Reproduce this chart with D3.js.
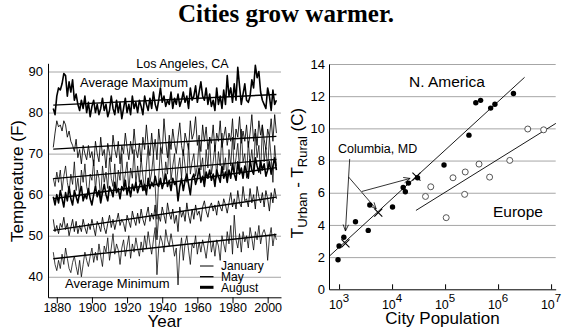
<html>
<head>
<script src="https://d3js.org/d3.v7.min.js"></script>
<style>
  body { margin: 0; background: #fff; }
  text { font-family: "Liberation Sans", Arial, Helvetica, sans-serif; fill: #000; }
  .title { font-family: "Liberation Serif", "Times New Roman", serif; font-weight: bold; font-size: 25px; }
  .grid line { stroke: #a6a6a6; stroke-width: 1; }
  .grid .domain { stroke: none; }
  .axis .domain, .axis line { stroke: #000; stroke-width: 1; }
  .ticklab text { font-size: 13px; }
  .axis-title { font-size: 17px; }
  .note { font-size: 12.5px; }
  .region { font-size: 15.5px; }
</style>
</head>
<body>
<svg id="chart" width="576" height="332"></svg>
<script>
// ---- Los Angeles monthly averages, one value per year from 1878 ----
const firstYear = 1878;

const augMax = [
  81, 79.5, 84, 86, 85.5, 87, 89.5, 89, 84, 87.5,
  85, 88, 83, 84.5, 82, 80.5, 83, 81, 84, 80,
  82.5, 79, 81.5, 83, 80, 82, 79.5, 81, 83.5, 80.5,
  82, 79, 80.5, 84, 81, 79.5, 83, 80, 82.5, 78.5,
  81, 83.5, 80, 82, 79.5, 84, 81, 82.5, 80, 83,
  81.5, 79.5, 84, 82, 80.5, 83.5, 81, 85, 82, 80.5,
  83, 86, 82.5, 84, 81.5, 83, 82, 85, 81, 83.5,
  82, 84.5, 81.5, 83, 85, 82.5, 84, 81, 86, 83,
  84, 86.5, 82.5, 85, 87.5, 84, 83, 86, 82, 84.5,
  81.5, 83, 80.5, 86, 82, 84, 81, 85.5, 82, 89,
  84, 86, 82.5, 87, 83, 91, 86.5, 82, 84.5, 87,
  83, 82.5, 84, 88, 86, 91.5, 88.5, 90, 85, 83,
  82, 81, 86, 84, 80.5, 85.5, 82, 83
];
const mayMax = [
  71.5, 75, 78, 76.5, 77, 75.5, 78, 77, 74, 75.5,
  73, 72, 70.5, 73.5, 69, 71, 67.5, 72, 70, 68.5,
  72, 69, 70.5, 67, 73, 70, 68, 74, 69.5, 71,
  66.5, 72.5, 70, 68, 74.5, 71, 69, 73, 67.5, 72,
  70, 75, 71.5, 68.5, 73, 70, 76, 71, 69, 72.5,
  68, 74, 71, 77, 72, 69.5, 75, 70, 73.5, 68.5,
  76, 72, 70, 78.5, 73, 69, 74.5, 71, 76, 72.5,
  70, 74, 77.5, 72, 69.5, 75, 73, 71, 78, 73.5,
  75, 79, 72, 74.5, 70.5, 77, 73, 76.5, 71, 74,
  72.5, 77, 70.5, 75, 73, 78, 71.5, 74, 76.5, 72,
  75, 73, 78.5, 71, 76, 74, 79, 72.5, 75.5, 73,
  77, 71.5, 75, 79.5, 73, 76, 72, 78, 74.5, 77,
  73.5, 71, 76, 74, 78.5, 73, 79.5, 75
];
const janMax = [
  64, 62, 65.5, 63, 66, 61, 64.5, 67, 63, 60.5,
  65, 62.5, 68, 61, 64, 59.5, 66, 63, 67.5, 62,
  60, 65, 63.5, 68.5, 61, 66, 64, 59, 67, 63,
  65.5, 61.5, 69, 64, 62, 67.5, 60.5, 66, 63.5, 70,
  62, 65, 68, 61, 66.5, 64, 71, 62.5, 67, 63,
  69, 64.5, 61, 67, 72, 63, 65.5, 70, 62, 54,
  64, 71.5, 66, 62.5, 68, 65, 73, 63.5, 67, 70,
  62, 66.5, 69, 64, 71, 67, 63, 72.5, 65, 68,
  70, 64.5, 67, 73, 66, 69, 63, 71, 66.5, 74,
  65, 68, 72, 64, 70.5, 67, 75, 66, 69, 63.5,
  71, 67, 74, 65.5, 69, 72.5, 66, 76, 68, 70,
  64, 73, 67.5, 71, 66, 75, 69, 72, 65, 77,
  68, 71.5, 66, 74, 69, 63, 72, 67
];
const augMin = [
  59.5, 57.5, 60, 58, 61, 59, 57, 60.5, 58.5, 62,
  59, 57.5, 61, 59.5, 58, 60.5, 62, 58.5, 60, 59,
  61.5, 59, 57.5, 60, 62, 59.5, 61, 58, 60.5, 62.5,
  60, 58.5, 62, 61, 59.5, 63, 60.5, 61.5, 59, 62,
  61, 63.5, 60, 62, 59.5, 62.5, 61, 63, 60.5, 62,
  63.5, 61, 62.5, 60, 64, 61.5, 63, 62, 64.5, 62.5,
  62, 64, 61.5, 63, 65, 62, 63.5, 61, 64, 62.5,
  63, 58.5, 62, 64, 61, 63.5, 65, 62.5, 60, 64,
  65, 62.5, 64, 66.5, 63, 64.5, 62, 65.5, 64, 66,
  63.5, 65, 62, 66, 64.5, 63, 67, 64, 65.5, 63,
  66, 64, 67.5, 65, 63.5, 68, 65, 66.5, 64, 67,
  65.5, 64, 68.5, 66, 65, 69, 67, 65.5, 68, 66,
  67.5, 64.5, 66, 68, 65, 67, 69, 66
];
const mayMin = [
  54, 51, 52.5, 50.5, 53, 52, 54.5, 51.5, 53, 50,
  52, 54, 51, 53.5, 50.5, 52.5, 51, 54, 52, 50.5,
  53, 51.5, 54, 52, 50, 53.5, 52.5, 51, 54.5, 52,
  50.5, 53, 55, 52, 54, 51.5, 53.5, 55.5, 52.5, 54,
  53, 51, 55, 53.5, 52, 56, 54, 52.5, 55.5, 53,
  56.5, 54, 52.5, 55, 57, 53.5, 55.5, 54, 57.5, 49,
  55, 53.5, 57, 55, 53, 58, 55.5, 54, 56.5, 53,
  55, 51, 57, 54.5, 56, 53.5, 58, 55, 53, 56.5,
  54, 57.5, 55, 56, 53.5, 57, 58.5, 56, 54.5, 57,
  58, 56, 57.5, 55, 58.5, 57, 56, 59, 57.5, 55.5,
  58, 60.5, 57, 59, 56.5, 61, 58, 57, 62, 58.5,
  59, 57, 61.5, 58, 60, 56.5, 62, 59.5, 58, 60.5,
  57, 61, 59, 56, 60.5, 58, 61.5, 59
];
const janMin = [
  46, 43, 41.5, 44, 42, 45.5, 43, 47, 44.5, 42,
  41, 43.5, 45, 42.5, 40.5, 44, 40, 43, 46, 44,
  42.5, 45, 47, 43.5, 46, 44, 48, 45, 42.5, 47.5,
  46, 49.5, 44, 47, 50.5, 45.5, 48, 46.5, 43, 47,
  49, 45, 47.5, 50, 44.5, 48, 46, 49.5, 47, 45,
  48.5, 46, 50, 47, 51, 48, 45.5, 49, 52, 40.5,
  47, 50, 48.5, 46, 51.5, 49, 47.5, 50.5, 48, 45,
  47, 38, 46, 49.5, 44, 48, 50, 46.5, 43, 48,
  47, 50, 45.5, 48.5, 46, 49, 47, 44.5, 48, 50.5,
  46, 48.5, 45, 49, 47.5, 44, 50, 48, 46, 51,
  48, 52.5, 45.5, 55, 49, 47, 50.5, 46, 51, 48.5,
  50, 47, 52, 49.5, 46.5, 51, 49, 52.5, 48, 50.5,
  51.5, 50, 44, 49.5, 52, 47.5, 50.5, 49
];

// linear trend of each series, value at 1878 and at 2005
const trendStart = [81.8, 71.1, 63.9, 59.0, 51.3, 44.4];
const trendEnd   = [84.4, 74.2, 68.6, 66.6, 59.4, 50.3];
const seriesMonth = ["August", "May", "January", "August", "May", "January"];

const yearTicks = [1880, 1900, 1920, 1940, 1960, 1980, 2000];
const tempTicks = [40, 50, 60, 70, 80, 90];
const legendNames = ["January", "May", "August"];

// ---- urban heat island vs population ----
const naPop   = [955, 1000, 1230, 2040, 3800, 3550, 10200, 16200, 17800, 20400, 30200,
                 95500, 282000, 380000, 468000, 724000, 871000, 1950000];
const naDelta = [1.84, 2.69, 3.23, 4.2, 5.24, 3.66, 5.11, 6.33, 6.06, 6.6, 6.93,
                 7.72, 9.58, 11.59, 11.74, 11.26, 11.5, 12.17];
const euPop   = [42700, 53700, 105000, 234000, 141000, 240000, 437000, 692000, 1660000, 3630000, 7240000];
const euDelta = [5.77, 6.37, 4.45, 5.9, 6.93, 7.29, 7.78, 6.97, 8.01, 9.96, 9.91];
const columbiaPop   = [1320, 5500, 28800];
const columbiaDelta = [2.86, 4.76, 7.0];

// fitted lines, [population, delta] at each end
const naFit = [[646, 2.04], [3160000, 13.17]];
const euFit = [[28200, 4.9], [12300000, 10.31]];

// Columbia, MD pointers: [from, to]
const columbiaArrows = [
  [[1585, 8.1], [1320, 3.62]],
  [[1510, 6.98], [5010, 4.99]],
  [[2690, 6.08], [21900, 6.89]]
];

const deltaTicks = [0, 2, 4, 6, 8, 10, 12, 14];
const popExponents = [3, 4, 5, 6, 7];

const svg = d3.select("#chart");

svg.append("text").attr("class", "title")
  .attr("x", 286).attr("y", 22).attr("text-anchor", "middle")
  .text("Cities grow warmer.");

// ================= left panel =================
const xL = d3.scaleLinear().domain([1875, 2007.6]).range([48, 281]);
const yL = d3.scaleLinear().domain([35, 92]).range([297.3, 63.3]);

svg.append("g").attr("class", "grid")
  .attr("transform", "translate(48,0)")
  .call(d3.axisLeft(yL).tickValues(tempTicks).tickSize(-233).tickFormat(""));

const yAxisL = svg.append("g").attr("class", "axis ticklab")
  .attr("transform", "translate(48,0)")
  .call(d3.axisLeft(yL).tickValues(tempTicks).tickSize(0).tickSizeOuter(0).tickPadding(5));
yAxisL.selectAll("text").style("font-size", "13px");

const xAxisL = svg.append("g").attr("class", "axis ticklab")
  .attr("transform", "translate(0,297.3)")
  .call(d3.axisBottom(xL).tickValues(yearTicks).tickSize(6).tickSizeOuter(0)
    .tickPadding(0).tickFormat(d3.format("d")));
xAxisL.selectAll("text").style("font-size", "12.5px");

const seriesL = [augMax, mayMax, janMax, augMin, mayMin, janMin];
const monthWidth = { January: 0.75, May: 0.85, August: 1.6 };

const lineL = d3.line()
  .x((d, i) => xL(firstYear + i))
  .y(d => yL(d));

svg.append("g").selectAll("path").data(seriesL)
  .join("path")
  .attr("fill", "none")
  .attr("stroke", "#000")
  .attr("stroke-linejoin", "round")
  .attr("stroke-width", (d, i) => monthWidth[seriesMonth[i]])
  .attr("d", lineL);

const lastYear = firstYear + augMax.length - 1;
svg.append("g").selectAll("line").data(trendStart)
  .join("line")
  .attr("x1", xL(firstYear)).attr("x2", xL(lastYear))
  .attr("y1", d => yL(d))
  .attr("y2", (d, i) => yL(trendEnd[i]))
  .attr("stroke", "#000")
  .attr("stroke-width", 1.4);

svg.append("text").attr("class", "note")
  .attr("x", 182.5).attr("y", 67.5).attr("text-anchor", "middle")
  .text("Los Angeles, CA");
svg.append("text").style("font-size", "13px")
  .attr("x", 80).attr("y", 87.3).text("Average Maximum");
svg.append("text").style("font-size", "13px")
  .attr("x", 65).attr("y", 288).text("Average Minimum");

// month legend
const legendY = [266, 276.7, 287.3];
const legend = svg.append("g");
legendNames.forEach((name, i) => {
  legend.append("line")
    .attr("x1", 200).attr("x2", 213.5)
    .attr("y1", legendY[i]).attr("y2", legendY[i])
    .attr("stroke", "#000")
    .attr("stroke-width", name === "August" ? 3 : (name === "May" ? 1.3 : 1));
  legend.append("text").style("font-size", "12px")
    .attr("x", 221).attr("y", legendY[i] + 4.3).text(name);
});

svg.append("text").attr("class", "axis-title")
  .attr("x", 164.7).attr("y", 327).attr("text-anchor", "middle").text("Year");
svg.append("text").attr("class", "axis-title")
  .attr("transform", "translate(22.5,181) rotate(-90)")
  .attr("text-anchor", "middle").text("Temperature (F)");

// ================= right panel =================
const xR = d3.scaleLog().domain([Math.pow(10, 2.81), Math.pow(10, 7.087)]).range([329, 555.7]);
const yR = d3.scaleLinear().domain([0, 14]).range([289.3, 64]);

svg.append("g").attr("class", "grid")
  .attr("transform", "translate(329,0)")
  .call(d3.axisLeft(yR).tickValues(deltaTicks.filter(d => d > 0)).tickSize(-226.7).tickFormat(""));

const yAxisR = svg.append("g").attr("class", "axis ticklab")
  .attr("transform", "translate(329,0)")
  .call(d3.axisLeft(yR).tickValues(deltaTicks).tickSize(0).tickSizeOuter(0).tickPadding(4));
yAxisR.selectAll("text").style("font-size", "13px");

const xAxisR = svg.append("g").attr("class", "axis")
  .attr("transform", "translate(0,289.3)")
  .call(d3.axisBottom(xR).tickValues(popExponents.map(e => Math.pow(10, e)))
    .tickSize(-5).tickSizeOuter(0).tickFormat(""));

// power-of-ten labels
const popLab = svg.append("g").selectAll("text").data(popExponents)
  .join("text")
  .attr("x", e => xR(Math.pow(10, e)))
  .attr("y", 308.5)
  .attr("text-anchor", "middle")
  .style("font-size", "12.5px");
popLab.append("tspan").text("10");
popLab.append("tspan").attr("dy", -6.5).style("font-size", "11.5px").text(e => e);

// fitted lines
[naFit, euFit].forEach(fit => {
  svg.append("line")
    .attr("x1", xR(fit[0][0])).attr("y1", yR(fit[0][1]))
    .attr("x2", xR(fit[1][0])).attr("y2", yR(fit[1][1]))
    .attr("stroke", "#000").attr("stroke-width", 0.9);
});

// Europe: open circles
svg.append("g").selectAll("circle").data(euPop)
  .join("circle")
  .attr("cx", d => xR(d))
  .attr("cy", (d, i) => yR(euDelta[i]))
  .attr("r", 3)
  .attr("fill", "#fff")
  .attr("stroke", "#444")
  .attr("stroke-width", 0.9);

// North America: filled dots
svg.append("g").selectAll("circle").data(naPop)
  .join("circle")
  .attr("cx", d => xR(d))
  .attr("cy", (d, i) => yR(naDelta[i]))
  .attr("r", 2.7)
  .attr("fill", "#000");

// Columbia, MD crosses
const cross = svg.append("g").attr("stroke", "#000").attr("stroke-width", 1.1);
columbiaPop.forEach((p, i) => {
  const cx = xR(p), cy = yR(columbiaDelta[i]), s = 4;
  cross.append("path")
    .attr("d", `M${cx - s},${cy - s}L${cx + s},${cy + s}M${cx - s},${cy + s}L${cx + s},${cy - s}`);
});

// pointers from the label
const arrows = svg.append("g").attr("stroke", "#000").attr("stroke-width", 0.8).attr("fill", "none");
columbiaArrows.forEach(a => {
  const x1 = xR(a[0][0]), y1 = yR(a[0][1]);
  const x2 = xR(a[1][0]), y2 = yR(a[1][1]);
  const ang = Math.atan2(y2 - y1, x2 - x1);
  const len = 7, spread = 0.4;
  arrows.append("line").attr("x1", x1).attr("y1", y1).attr("x2", x2).attr("y2", y2);
  arrows.append("path").attr("d",
    `M${x2 - len * Math.cos(ang - spread)},${y2 - len * Math.sin(ang - spread)}` +
    `L${x2},${y2}` +
    `L${x2 - len * Math.cos(ang + spread)},${y2 - len * Math.sin(ang + spread)}`);
});

svg.append("text").attr("class", "note")
  .attr("x", 338).attr("y", 153).text("Columbia, MD");
svg.append("text").attr("class", "region")
  .attr("x", 409).attr("y", 87).text("N. America");
svg.append("text").attr("class", "region")
  .attr("x", 493).attr("y", 217).text("Europe");

svg.append("text").attr("class", "axis-title")
  .attr("x", 442.5).attr("y", 324).attr("text-anchor", "middle").text("City Population");

// T_Urban - T_Rural (C), read bottom to top
const yTitleR = svg.append("text").attr("class", "axis-title")
  .attr("transform", "translate(303,173) rotate(-90)")
  .attr("text-anchor", "middle");
yTitleR.append("tspan").text("T");
yTitleR.append("tspan").attr("dy", 4).style("font-size", "13px").text("Urban");
yTitleR.append("tspan").attr("dy", -4).text(" - T");
yTitleR.append("tspan").attr("dy", 4).style("font-size", "13px").text("Rural");
yTitleR.append("tspan").attr("dy", -4).text(" (C)");
</script>
</body>
</html>
